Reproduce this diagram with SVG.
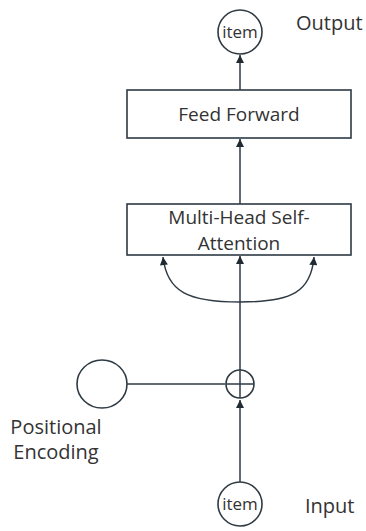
<svg xmlns="http://www.w3.org/2000/svg" width="366" height="531" viewBox="0 0 366 531">
  <style>
    .shape { fill: #ffffff; stroke: #2e3a44; stroke-width: 1.6; }
    .edge { fill: none; stroke: #2e3a44; stroke-width: 1.5; }
    .label { font-family: "Open Sans", "Noto Sans", "Liberation Sans", sans-serif; font-size: 20px; fill: #333333; }
    .box { font-size: 19px; }
    .item { font-size: 17px; }
    .mid { text-anchor: middle; }
  </style>
  <defs>
    <marker id="arrow" viewBox="0 0 10 10" refX="10" refY="5" markerWidth="9" markerHeight="8" markerUnits="userSpaceOnUse" orient="auto">
      <path d="M0,0 L10,5 L0,10 Z" fill="#1f2a33"/>
    </marker>
  </defs>

  <!-- connectors -->
  <g id="connectors">
    <line class="edge" x1="240" y1="90" x2="240" y2="55" marker-end="url(#arrow)"/>
    <line class="edge" x1="240" y1="204" x2="240" y2="139" marker-end="url(#arrow)"/>
    <line class="edge" x1="240" y1="371" x2="240" y2="256" marker-end="url(#arrow)"/>
    <path class="edge" d="M240,302 C188,302 167,292 163,257" marker-end="url(#arrow)"/>
    <path class="edge" d="M240,302 C292,302 311,292 314,257" marker-end="url(#arrow)"/>
    <line class="edge" x1="127" y1="384" x2="225" y2="384"/>
    <line class="edge" x1="240" y1="482" x2="240" y2="400" marker-end="url(#arrow)"/>
  </g>

  <g id="output">
    <circle class="shape" cx="240" cy="32" r="22"/>
    <text class="label item mid" x="240" y="38">item</text>
  </g>
  <text class="label" x="296" y="30">Output</text>

  <g id="feed-forward">
    <rect class="shape" x="127" y="90" width="224" height="48"/>
    <text class="label box mid" x="239" y="121">Feed Forward</text>
  </g>

  <g id="self-attention">
    <rect class="shape" x="127" y="204" width="224" height="51"/>
    <text class="label box mid" x="239" y="224">Multi-Head Self-</text>
    <text class="label box mid" x="239" y="250">Attention</text>
  </g>

  <g id="add">
    <circle class="shape" cx="240" cy="384" r="14"/>
    <line class="edge" x1="226" y1="384" x2="254" y2="384"/>
    <line class="edge" x1="240" y1="370" x2="240" y2="398"/>
  </g>

  <g id="positional-encoding">
    <ellipse class="shape" cx="102" cy="384" rx="25" ry="24"/>
    <text class="label mid" x="56" y="434">Positional</text>
    <text class="label mid" x="56" y="459">Encoding</text>
  </g>

  <g id="input">
    <circle class="shape" cx="240" cy="504" r="22"/>
    <text class="label item mid" x="240" y="510">item</text>
  </g>
  <text class="label" x="305" y="513">Input</text>
</svg>
